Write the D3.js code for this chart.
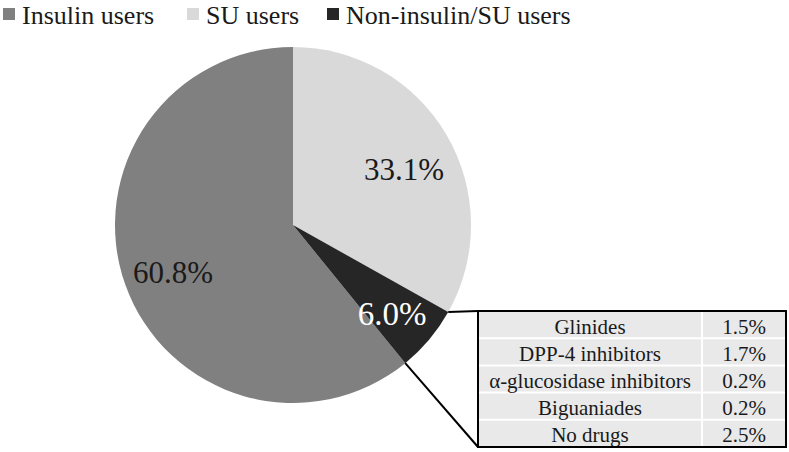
<!DOCTYPE html>
<html>
<head>
<meta charset="utf-8">
<script src="https://cdn.jsdelivr.net/npm/d3@7"></script>
</head>
<body style="margin:0">
<svg id="chart" width="789" height="452"></svg>
<script>
// ---- data ----
const categories = ["Insulin users", "SU users", "Non-insulin/SU users"];
const values = [60.8, 33.1, 6.0];
const valueLabels = ["60.8%", "33.1%", "6.0%"];
const drawOrder = ["SU users", "Non-insulin/SU users", "Insulin users"];
const drugNames = ["Glinides", "DPP-4 inhibitors", "α-glucosidase inhibitors", "Biguaniades", "No drugs"];
const drugValues = ["1.5%", "1.7%", "0.2%", "0.2%", "2.5%"];

// ---- styles ----
const FONT = "Liberation Serif";
const colors = d3.scaleOrdinal().domain(categories).range(["#808080", "#d9d9d9", "#262626"]);
const labelColors = { "Insulin users": "#1a1a1a", "SU users": "#1a1a1a", "Non-insulin/SU users": "#ffffff" };

const svg = d3.select("#chart");
const cx = 293, cy = 225, R = 178;

const data = categories.map((c, i) => ({ cat: c, value: values[i], label: valueLabels[i] }));

const pie = d3.pie()
  .value(d => d.value)
  .sort((a, b) => drawOrder.indexOf(a.cat) - drawOrder.indexOf(b.cat))
  .startAngle(0).endAngle(2 * Math.PI);
const arcs = pie(data);
const arc = d3.arc().innerRadius(0).outerRadius(R);

const g = svg.append("g").attr("transform", `translate(${cx},${cy})`);
g.selectAll("path").data(arcs).join("path")
  .attr("d", arc)
  .attr("fill", d => colors(d.data.cat));

// value labels (positions tuned)
const labelPos = {
  "SU users": [111, -45],
  "Insulin users": [-120, 58],
  "Non-insulin/SU users": [99, 100]
};
g.selectAll("text.val").data(arcs).join("text")
  .attr("class", "val")
  .attr("font-family", FONT)
  .style("font-family", FONT)
  .attr("x", d => labelPos[d.data.cat][0])
  .attr("y", d => labelPos[d.data.cat][1])
  .attr("text-anchor", "middle")
  .attr("font-size", d => d.data.cat === "Non-insulin/SU users" ? 33 : 31)
  .attr("fill", d => labelColors[d.data.cat])
  .text(d => d.data.label);

// ---- legend ----
const legendX = [3, 187, 327];
const leg = svg.append("g");
categories.forEach((c, i) => {
  leg.append("rect").attr("x", legendX[i]).attr("y", 8).attr("width", 12).attr("height", 12)
    .attr("fill", colors(c));
  leg.append("text").attr("font-family", FONT).style("font-family", FONT)
    .attr("x", legendX[i] + 19).attr("y", 24)
    .attr("font-size", 26).attr("fill", "#1a1a1a").text(c);
});

// ---- table ----
const tx = 478, ty = 311, tw = 308, th = 136, col1 = 224;
const rowY = d3.scaleBand().domain(drugNames).range([ty, ty + th]);
const tbl = svg.append("g");
tbl.append("rect").attr("x", tx).attr("y", ty).attr("width", tw).attr("height", th).attr("fill", "#e9e9e9");
drugNames.slice(1).forEach(n => {
  tbl.append("line").attr("x1", tx).attr("x2", tx + tw)
    .attr("y1", rowY(n)).attr("y2", rowY(n)).attr("stroke", "#fff").attr("stroke-width", 2);
});
tbl.append("line").attr("x1", tx + col1).attr("x2", tx + col1).attr("y1", ty).attr("y2", ty + th)
  .attr("stroke", "#fff").attr("stroke-width", 2);
tbl.selectAll("text.name").data(drugNames).join("text").attr("class", "name")
  .attr("font-family", FONT).style("font-family", FONT)
  .attr("x", tx + col1 / 2).attr("y", d => rowY(d) + rowY.bandwidth() / 2 + 9)
  .attr("text-anchor", "middle").attr("font-size", 21).attr("fill", "#1a1a1a").text(d => d);
tbl.selectAll("text.v").data(drugValues).join("text").attr("class", "v")
  .attr("font-family", FONT).style("font-family", FONT)
  .attr("x", tx + col1 + (tw - col1) / 2).attr("y", (d, i) => rowY(drugNames[i]) + rowY.bandwidth() / 2 + 9)
  .attr("text-anchor", "middle").attr("font-size", 21).attr("fill", "#1a1a1a").text(d => d);
tbl.append("rect").attr("x", tx).attr("y", ty).attr("width", tw).attr("height", th)
  .attr("fill", "none").attr("stroke", "#000").attr("stroke-width", 2);

// ---- connector lines from the small slice ----
const small = arcs.find(a => a.data.cat === "Non-insulin/SU users");
const pt = a => [cx + R * Math.sin(a), cy - R * Math.cos(a)];
const p1 = pt(small.startAngle), p2 = pt(small.endAngle);
svg.append("line").attr("x1", p1[0]).attr("y1", p1[1]).attr("x2", tx).attr("y2", ty)
  .attr("stroke", "#000").attr("stroke-width", 2);
svg.append("line").attr("x1", p2[0]).attr("y1", p2[1]).attr("x2", tx).attr("y2", ty + th)
  .attr("stroke", "#000").attr("stroke-width", 2);
</script>
</body>
</html>
